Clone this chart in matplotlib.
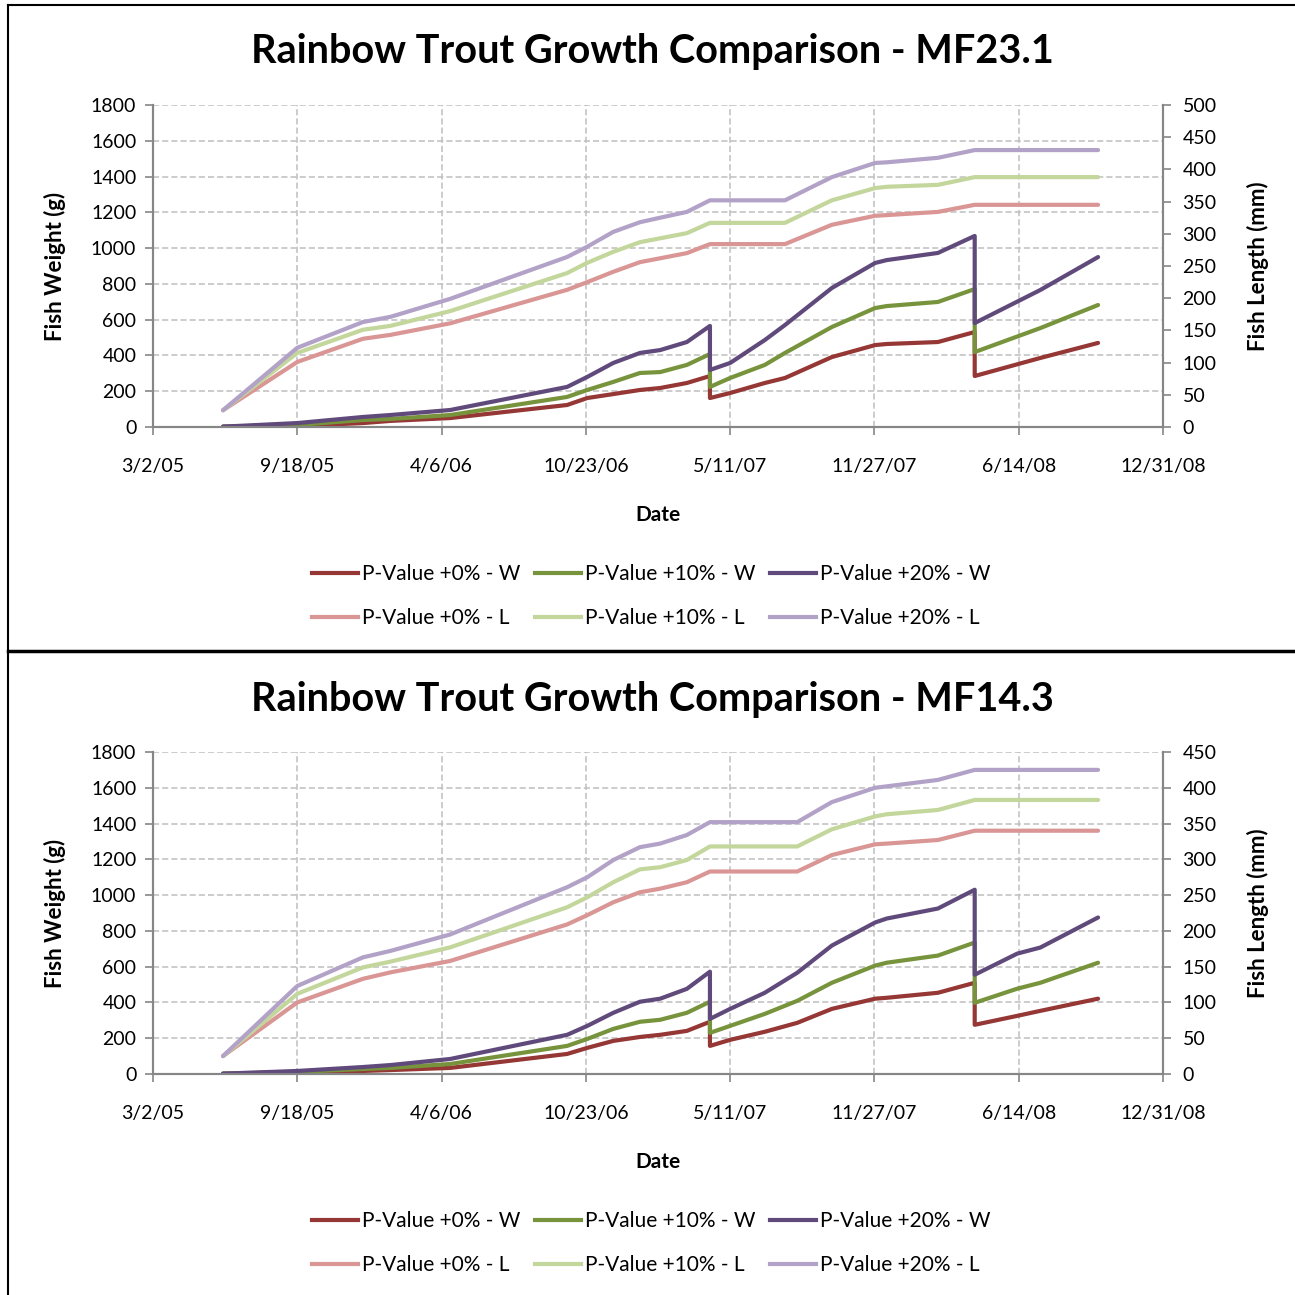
import matplotlib
matplotlib.use("Agg")
import matplotlib.pyplot as plt
from matplotlib.lines import Line2D
import pandas as pd

plt.rcParams['font.family'] = ['Lato', 'DejaVu Sans']

# sample dates (the repeated date is the harvest drop)
dates_mf23 = pd.to_datetime([
    '2005-06-07', '2005-09-18', '2005-12-18', '2006-01-25', '2006-04-18',
    '2006-09-27', '2006-10-25', '2006-11-30', '2007-01-06', '2007-02-03',
    '2007-03-12', '2007-04-13', '2007-04-13', '2007-05-11', '2007-06-28',
    '2007-07-26', '2007-09-29', '2007-11-28', '2007-12-14', '2008-02-23',
    '2008-04-14', '2008-04-14', '2008-07-14', '2008-10-02'])
dates_mf14 = pd.to_datetime([
    '2005-06-07', '2005-09-18', '2005-12-18', '2006-01-25', '2006-04-18',
    '2006-09-27', '2006-10-25', '2006-11-30', '2007-01-06', '2007-02-03',
    '2007-03-12', '2007-04-13', '2007-04-13', '2007-05-11', '2007-06-28',
    '2007-08-12', '2007-09-29', '2007-11-28', '2007-12-14', '2008-02-23',
    '2008-04-14', '2008-04-14', '2008-06-12', '2008-07-14', '2008-10-02'])

# MF23.1 - weight (g)
w0_mf23 = [2, 6, 22, 34, 50, 123, 162, 184, 207, 218, 246, 285, 162, 190, 246,
           274, 391, 458, 464, 475, 531, 285, 386, 470]
w10_mf23 = [2, 11, 39, 45, 67, 168, 207, 252, 302, 307, 347, 408, 224, 274, 347,
            414, 559, 665, 676, 699, 771, 419, 553, 682]
w20_mf23 = [2, 22, 56, 67, 95, 224, 280, 358, 414, 430, 475, 565, 319, 358, 486,
            570, 777, 917, 933, 973, 1068, 581, 766, 950]
# MF23.1 - length (mm)
l0_mf23 = [26, 101, 137, 143, 161, 213, 225, 241, 256, 262, 270, 284, 284, 284,
           284, 284, 314, 328, 329, 334, 345, 345, 345, 345]
l10_mf23 = [26, 115, 151, 157, 180, 239, 255, 272, 287, 293, 301, 317, 317, 317,
            317, 317, 352, 371, 373, 376, 388, 388, 388, 388]
l20_mf23 = [26, 123, 163, 171, 199, 264, 280, 303, 318, 325, 334, 352, 352, 352,
            352, 352, 388, 410, 411, 418, 430, 430, 430, 430]

# MF14.3 - weight (g)
w0_mf14 = [2, 6, 17, 22, 34, 112, 146, 185, 207, 219, 241, 292, 157, 191, 236,
           286, 364, 421, 426, 454, 510, 275, 325, 353, 421]
w10_mf14 = [2, 11, 28, 34, 56, 157, 196, 252, 292, 303, 342, 404, 230, 269, 336,
            409, 510, 606, 622, 662, 735, 398, 477, 510, 622]
w20_mf14 = [2, 17, 39, 50, 84, 219, 269, 342, 404, 421, 476, 572, 308, 364, 454,
            566, 718, 847, 869, 925, 1030, 555, 673, 707, 875]
# MF14.3 - length (mm)
l0_mf14 = [25, 100, 133, 142, 158, 209, 222, 240, 254, 259, 268, 283, 283, 283,
           283, 283, 306, 321, 322, 327, 340, 340, 340, 340, 340]
l10_mf14 = [25, 112, 149, 157, 177, 233, 247, 268, 286, 289, 299, 318, 318, 318,
            318, 318, 342, 360, 363, 369, 383, 383, 383, 383, 383]
l20_mf14 = [25, 123, 163, 172, 195, 261, 275, 299, 317, 322, 334, 352, 352, 352,
            352, 352, 380, 400, 402, 411, 425, 425, 425, 425, 425]

tick_labels = ['3/2/05', '9/18/05', '4/6/06', '10/23/06', '5/11/07',
               '11/27/07', '6/14/08', '12/31/08']
tick_dates = pd.to_datetime(['2005-03-02', '2005-09-18', '2006-04-06', '2006-10-23',
                             '2007-05-11', '2007-11-27', '2008-06-14', '2008-12-31'])

w_colors = ['#953735', '#77933C', '#604A7B']
l_colors = ['#D99694', '#C3D69B', '#B3A2C7']
w_names = ['P-Value +0% - W', 'P-Value +10% - W', 'P-Value +20% - W']
l_names = ['P-Value +0% - L', 'P-Value +10% - L', 'P-Value +20% - L']

W = 1295
fig = plt.figure(figsize=(12.95, 12.95), dpi=100)

grid_kw = dict(color='#BFBFBF', linestyle=(0, (4, 2)), linewidth=1.1)
spine_c = '#868686'


def draw_panel(top_px, title, dates, weights, lengths, lmax):
    bottom_px = top_px + 322
    ax = fig.add_axes([153 / W, 1 - bottom_px / W, 1010 / W, 322 / W])
    ax2 = ax.twinx()
    for w, c in zip(weights, w_colors):
        ax.plot(dates, w, color=c, lw=3.0, solid_capstyle='round', zorder=3)
    for l, c in zip(lengths, l_colors):
        ax2.plot(dates, l, color=c, lw=3.0, solid_capstyle='round', zorder=3)

    ax.set_xlim(tick_dates[0], tick_dates[-1])
    ax.set_ylim(0, 1800)
    ax.set_yticks(range(0, 1801, 200))
    ax2.set_ylim(0, lmax)
    ax2.set_yticks(range(0, lmax + 1, 50))
    ax.set_xticks(tick_dates)
    ax.set_xticklabels(tick_labels)

    ax.grid(True, **grid_kw)
    ax.set_axisbelow(True)
    for a in (ax, ax2):
        a.spines['top'].set_visible(False)
        for s in ('left', 'right', 'bottom'):
            a.spines[s].set_color(spine_c)
            a.spines[s].set_linewidth(1.5)
        a.tick_params(colors=spine_c, labelcolor='black', labelsize=14, length=6,
                      width=1.2)
    ax.tick_params(axis='x', pad=16)
    ax.tick_params(axis='y', pad=6)
    ax2.tick_params(axis='y', pad=8)

    ax.set_ylabel('Fish Weight (g)', fontsize=16, fontweight='bold', labelpad=18)
    ax2.set_ylabel('Fish Length (mm)', fontsize=16, fontweight='bold', labelpad=22)
    ax.set_xlabel('Date', fontsize=15, fontweight='bold', labelpad=22)
    fig.text(652 / W, 1 - (top_px - 53) / W, title, ha='center', va='center',
             fontsize=28.5, fontweight='bold')

    handles = []
    for i in range(3):
        handles.append(Line2D([], [], color=w_colors[i], lw=3.0, label=w_names[i]))
        handles.append(Line2D([], [], color=l_colors[i], lw=3.0, label=l_names[i]))
    fig.legend(handles=handles, ncol=3, loc='center',
               bbox_to_anchor=(651 / W, 1 - (bottom_px + 169) / W),
               frameon=False, fontsize=15, handlelength=2.2, handletextpad=0.2,
               columnspacing=0.7, labelspacing=1.15)


draw_panel(105, 'Rainbow Trout Growth Comparison - MF23.1', dates_mf23,
           [w0_mf23, w10_mf23, w20_mf23], [l0_mf23, l10_mf23, l20_mf23], 500)
draw_panel(752, 'Rainbow Trout Growth Comparison - MF14.3', dates_mf14,
           [w0_mf14, w10_mf14, w20_mf14], [l0_mf14, l10_mf14, l20_mf14], 450)

# chart frames
fig.add_artist(Line2D([8 / W, 8 / W], [0, 1 - 5 / W], color='black', lw=1.5))
fig.add_artist(Line2D([8 / W, 1], [1 - 5 / W, 1 - 5 / W], color='black', lw=1.5))
fig.add_artist(Line2D([8 / W, 1], [1 - 651 / W, 1 - 651 / W], color='black', lw=2.5))

fig.savefig('out.png', dpi=100)
